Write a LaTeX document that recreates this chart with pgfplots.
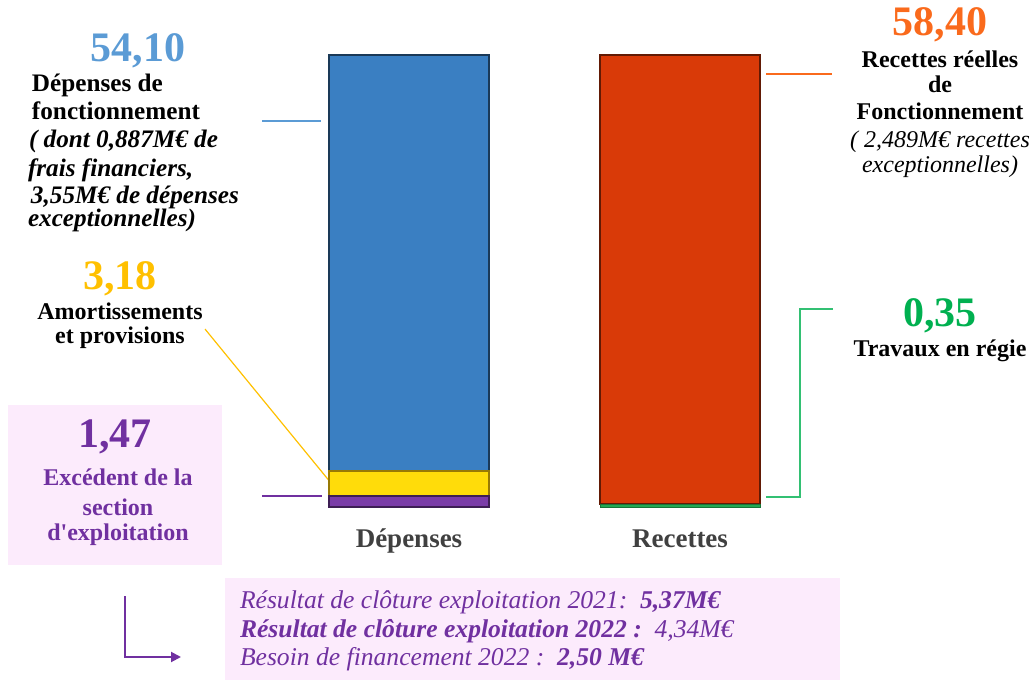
\documentclass[border=0pt]{standalone}
\usepackage{pgfplots}
\pgfplotsset{compat=1.18}
\usepackage{fontspec}
\setmainfont{Liberation Serif}
\usetikzlibrary{arrows.meta}

\definecolor{cblue}{HTML}{3A7FC2}
\definecolor{cred}{HTML}{D93A08}
\definecolor{cyellow}{HTML}{FFDC0A}
\definecolor{cpurple}{HTML}{7A3CA8}
\definecolor{cgreen}{HTML}{22A852}
\definecolor{tblue}{HTML}{5B9BD5}
\definecolor{torange}{HTML}{FA6A1C}
\definecolor{tgold}{HTML}{FFC000}
\definecolor{tgreen}{HTML}{00B050}
\definecolor{tpurple}{HTML}{7030A0}
\definecolor{boxpink}{HTML}{FCEBFC}
\definecolor{catgray}{HTML}{404040}

\pgfplotsset{
  budget/.style={
    at={(0,0)}, anchor=south west,
    scale only axis, width=516pt, height=340pt,
    xmin=0, xmax=1032, ymin=-22.485, ymax=65.90,
    hide axis, clip=false,
    ybar stacked, bar width=160,
  }
}

\begin{document}
\begin{tikzpicture}
\path[use as bounding box] (0,0) rectangle (516pt,340pt);

% shaded panels behind the notes
\begin{scope}[x=0.5pt,y=-0.5pt,shift={(0pt,340pt)}]
  \fill[boxpink] (8,405) rectangle (222,565);
  \fill[boxpink] (225,578) rectangle (840,680);
\end{scope}

% Dépenses
\begin{axis}[budget]
\addplot[fill=cpurple, draw=cpurple!50!black, line width=1.1pt] coordinates {(409,1.47)};
\addplot[fill=cyellow, draw=cyellow!55!black!90!orange, line width=1.1pt] coordinates {(409,3.18)};
\addplot[fill=cblue, draw=cblue!45!black, line width=1.1pt] coordinates {(409,54.10)};

\draw[tblue, line width=0.6pt] (axis cs:262,50.17) -- (axis cs:321,50.17);
\draw[tgold, line width=0.6pt] (axis cs:205,23.13) -- (axis cs:331,3.12);
\draw[tpurple, line width=0.6pt] (axis cs:262,1.43) -- (axis cs:322,1.43);

\node[font=\fontsize{13.5}{15}\selectfont\bfseries, text=catgray, anchor=base]
  at (axis cs:409,-5.3) {Dépenses};
\end{axis}

% Recettes
\begin{axis}[budget]
\addplot[fill=cgreen, draw=cgreen!70!black, line width=0.5pt] coordinates {(680,0.35)};
\addplot[fill=cred, draw=cred!45!black, line width=1.1pt] coordinates {(680,58.40)};

\draw[torange, line width=0.6pt] (axis cs:766,56.28) -- (axis cs:832,56.28);
\draw[tgreen!80!white, line width=0.6pt] (axis cs:766,1.30) -- (axis cs:800,1.30)
  -- (axis cs:800,25.73) -- (axis cs:833,25.73);

\node[font=\fontsize{13.5}{15}\selectfont\bfseries, text=catgray, anchor=base]
  at (axis cs:680,-5.3) {Recettes};
\end{axis}

\begin{scope}[x=0.5pt,y=-0.5pt,shift={(0pt,340pt)}, inner sep=0pt, outer sep=0pt]
  \tikzset{big/.style={font=\fontsize{21}{24}\selectfont\bfseries, anchor=base},
           lab/.style={font=\fontsize{12}{14}\selectfont\bfseries},
           labl/.style={font=\fontsize{12.6}{14}\selectfont\bfseries},
           labi/.style={font=\fontsize{12.6}{14}\selectfont\bfseries\itshape},
           labri/.style={font=\fontsize{12}{14}\selectfont\itshape}}
  % Dépenses de fonctionnement
  \node[big, text=tblue] at (138,62) {54,10};
  \node[labl, anchor=base west] at (32,92) {Dépenses de};
  \node[labl, anchor=base west] at (32,120) {fonctionnement};
  \node[labi, anchor=base west] at (29,148) {( dont 0,887M€ de};
  \node[labi, anchor=base west] at (28,177) {frais financiers,};
  \node[labi, anchor=base west] at (31,204) {3,55M€ de dépenses};
  \node[labi, anchor=base west] at (28,227) {exceptionnelles)};
  % Amortissements
  \node[big, text=tgold] at (120,290) {3,18};
  \node[lab, anchor=base] at (120,320) {Amortissements};
  \node[lab, anchor=base] at (120,344) {et provisions};
  % Excédent
  \node[big, text=tpurple] at (115,448) {1,47};
  \node[lab, text=tpurple, anchor=base] at (118,486) {Excédent de la};
  \node[lab, text=tpurple, anchor=base] at (118,515) {section};
  \node[lab, text=tpurple, anchor=base] at (118,540) {d\textquotesingle exploitation};
  % Recettes réelles
  \node[big, text=torange] at (940,36) {58,40};
  \node[lab, anchor=base] at (940,68) {Recettes réelles};
  \node[lab, anchor=base] at (940,93) {de};
  \node[lab, anchor=base] at (940,120) {Fonctionnement};
  \node[labri, anchor=base] at (940,148) {( 2,489M€ recettes};
  \node[labri, anchor=base] at (940,173) {exceptionnelles)};
  % Travaux en régie
  \node[big, text=tgreen] at (940,327) {0,35};
  \node[lab, anchor=base] at (940,357) {Travaux en régie};
  % résultats
  \draw[tpurple, line width=1pt, -{Triangle[length=5pt,width=5pt]}]
    (125,596) -- (125,657) -- (181,657);
  \tikzset{res/.style={font=\fontsize{12.8}{14}\selectfont\itshape, text=tpurple, anchor=base west}}
  \node[res] at (240,608) {Résultat de clôture exploitation 2021:\ \ \textbf{5,37M€}};
  \node[res] at (240,637) {\textbf{Résultat de clôture exploitation 2022 :}\ \ 4,34M€};
  \node[res] at (240,665) {Besoin de financement 2022 :\ \ \textbf{2,50 M€}};
\end{scope}
\end{tikzpicture}
\end{document}
